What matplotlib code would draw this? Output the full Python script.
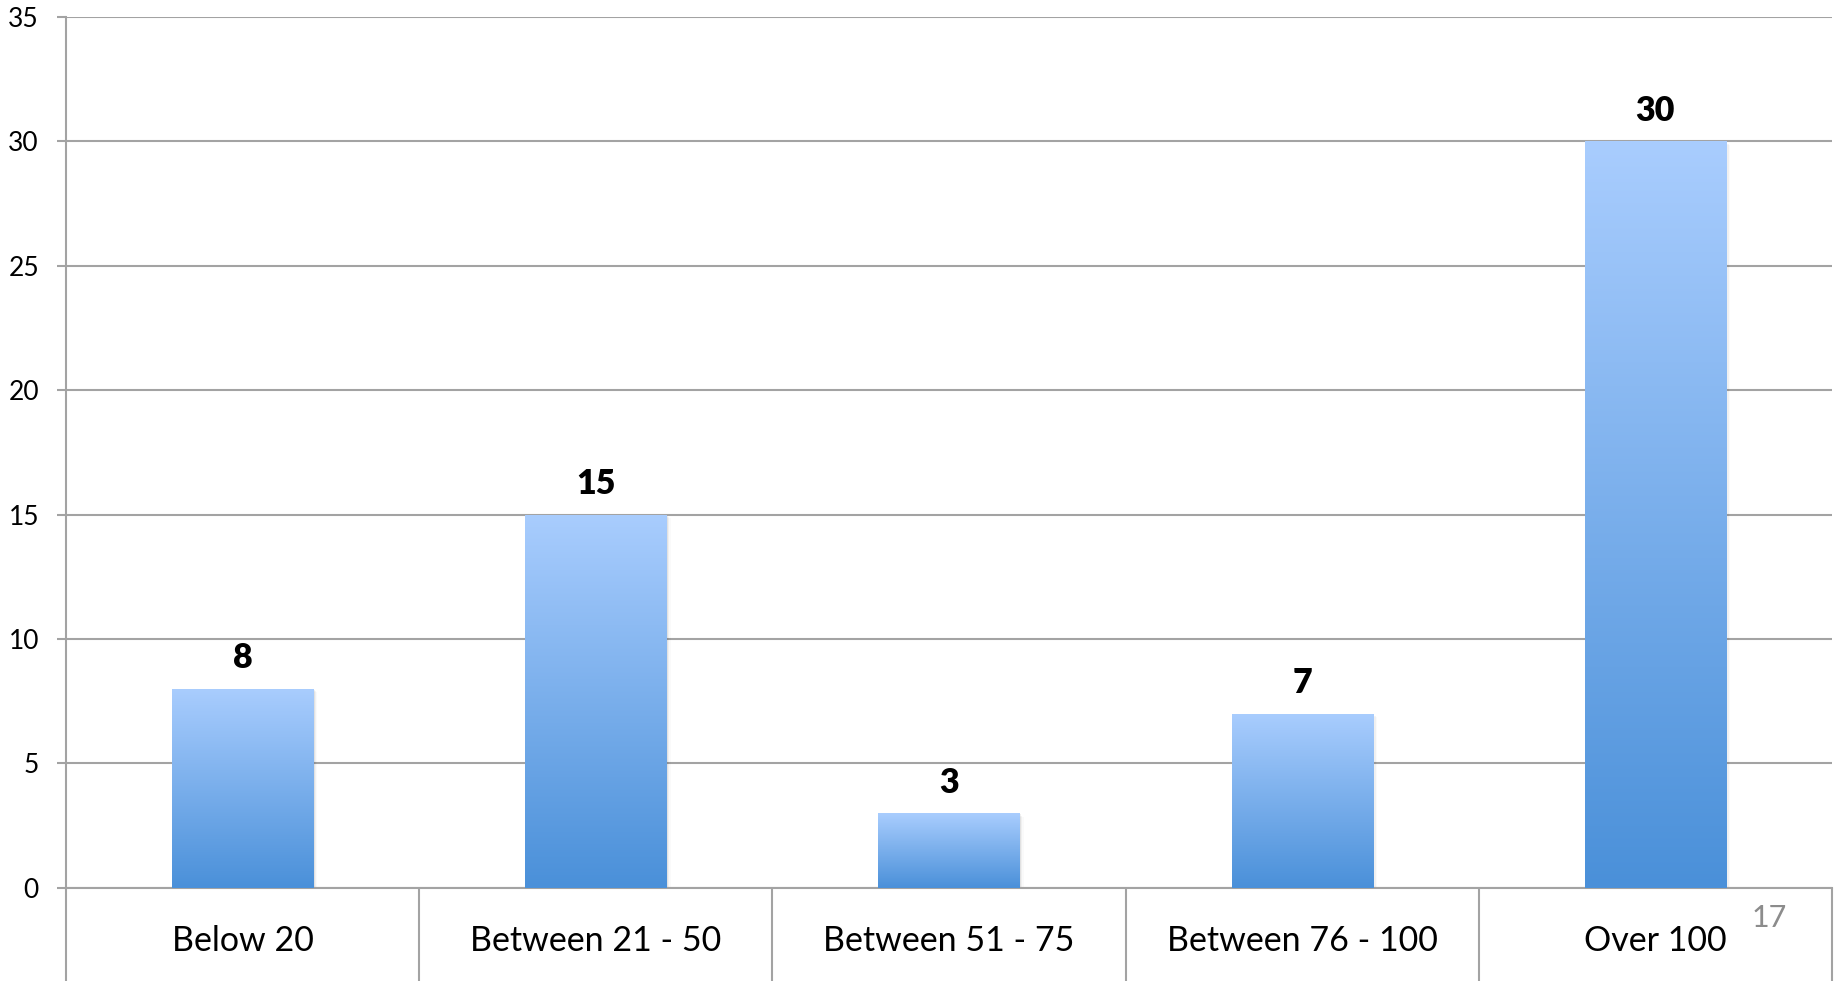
import matplotlib
matplotlib.use("Agg")
import matplotlib.pyplot as plt
import numpy as np
from matplotlib.patches import Rectangle

categories = ["Below 20", "Between 21 - 50", "Between 51 - 75", "Between 76 - 100", "Over 100"]
values = [8, 15, 3, 7, 30]
y_ticks = [0, 5, 10, 15, 20, 25, 30, 35]
page_number = "17"

plt.rcParams["font.family"] = ["Lato", "DejaVu Sans"]

W, H = 1841, 981
fig = plt.figure(figsize=(W / 100, H / 100), dpi=100)
ax = fig.add_axes([66 / W, (H - 887.7) / H, (1832 - 66) / W, (887.7 - 17) / H])

ax.set_xlim(-0.5, len(categories) - 0.5)
ax.set_ylim(0, 35)

grid_col = "#a3a3a3"
ax.set_yticks(y_ticks)
ax.yaxis.grid(True, color=grid_col, linewidth=1.5)
ax.set_axisbelow(True)
ax.tick_params(axis="y", length=6.5, width=1.5, color=grid_col, pad=13,
               labelsize=19, labelcolor="black")

# category labels between boundary ticks
x = np.arange(len(categories))
ax.set_xticks(x)
ax.set_xticklabels(categories, fontsize=24.5)
ax.tick_params(axis="x", which="major", length=0, pad=27)
ax.set_xticks(np.arange(len(categories) + 1) - 0.5, minor=True)
ax.tick_params(axis="x", which="minor", length=68, width=1.5, color=grid_col)

for s in ["top", "right"]:
    ax.spines[s].set_visible(False)
for s in ["left", "bottom"]:
    ax.spines[s].set_color(grid_col)
    ax.spines[s].set_linewidth(1.5)

# gradient bars
bars = ax.bar(x, values, width=0.4, color="none", zorder=3)
grad = np.linspace(0, 1, 256).reshape(-1, 1)
cmap = matplotlib.colors.LinearSegmentedColormap.from_list("bar", ["#4a90d9", "#a9cdfe"])
for b, v in zip(bars, values):
    x0 = b.get_x()
    w = b.get_width()
    # soft shadow
    for i, a in enumerate([0.06, 0.04, 0.02]):
        ax.add_patch(Rectangle((x0 + 0.004 * (i + 1), -0.05 * (i + 1)), w, v,
                               facecolor="black", alpha=a, edgecolor="none", zorder=2))
    im = ax.imshow(grad, extent=(x0, x0 + w, 0, v), origin="lower", aspect="auto",
                   cmap=cmap, zorder=3)
    im.set_clip_path(b)
    ax.annotate(str(v), (b.get_x() + w / 2, v), xytext=(0, 22), textcoords="offset points",
                ha="center", va="center", fontsize=24.5, fontweight="heavy")

ax.set_xlim(-0.5, len(categories) - 0.5)
ax.set_ylim(0, 35)

fig.text(1769 / W, 1 - 918 / H, page_number, fontsize=22, color="#8c8c8c",
         ha="center", va="center")

fig.savefig("out.png", dpi=100)
